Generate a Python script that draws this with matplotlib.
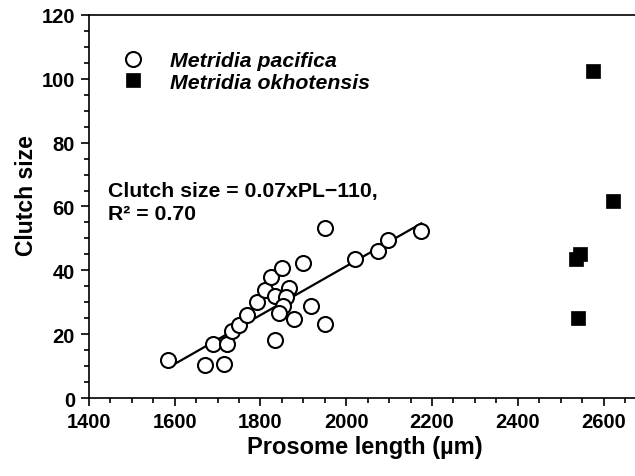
import numpy as np
import matplotlib
matplotlib.use("Agg")
import matplotlib.pyplot as plt
from matplotlib.ticker import MultipleLocator

plt.rcParams['font.family'] = ['Liberation Sans', 'DejaVu Sans']
plt.rcParams['font.weight'] = 'bold'

# Metridia pacifica (open circles)
pac_pl = [1584, 1670, 1716, 1689, 1722, 1733, 1749, 1768, 1792, 1810,
          1825, 1850, 1833, 1867, 1860, 1853, 1843, 1834, 1879, 1898,
          1918, 1950, 1950, 2020, 2074, 2098, 2175]
pac_clutch = [12.0, 10.4, 10.7, 17.0, 17.0, 21.0, 22.9, 26.0, 30.0, 33.7,
              37.8, 40.6, 32.1, 34.4, 31.6, 28.9, 26.6, 18.2, 24.7, 42.4,
              28.8, 23.1, 53.3, 43.4, 46.2, 49.5, 52.3]

# Metridia okhotensis (filled squares)
okh_pl = [2575, 2622, 2546, 2536, 2540]
okh_clutch = [102.3, 61.7, 45.1, 43.5, 25.2]

# regression line for M. pacifica
fit_slope = 0.0766
fit_intercept = -111.9

fig = plt.figure(figsize=(6.35, 4.77), dpi=100)
ax = fig.add_axes([0.140, 0.1635, 0.868, 0.803])

xl = np.array([min(pac_pl) + 12, max(pac_pl)])
ax.plot(xl, fit_slope * xl + fit_intercept, color='black', lw=1.6, zorder=2)

ax.plot(pac_pl, pac_clutch, 'o', ms=10.8, mfc='white', mec='black', mew=1.5,
        zorder=3, label='Metridia pacifica', linestyle='none')
ax.plot(okh_pl, okh_clutch, 's', ms=9.6, mfc='black', mec='black', mew=0.5,
        zorder=3, label='Metridia okhotensis', linestyle='none')

ax.set_xlim(1400, 2685)
ax.set_ylim(0, 120)
ax.xaxis.set_major_locator(MultipleLocator(200))
ax.xaxis.set_minor_locator(MultipleLocator(50))
ax.yaxis.set_major_locator(MultipleLocator(20))
ax.yaxis.set_minor_locator(MultipleLocator(5))
ax.tick_params(which='major', direction='out', length=6, width=1.2, labelsize=14.5, pad=4)
ax.tick_params(which='minor', direction='out', length=3.5, width=1.2)
ax.spines['right'].set_visible(False)
for s in ['left', 'bottom', 'top']:
    ax.spines[s].set_linewidth(1.2)

ax.set_xlabel('Prosome length (µm)', fontsize=17, fontweight='bold', labelpad=3)
ax.set_ylabel('Clutch size', fontsize=16.5, fontweight='bold')
ax.yaxis.set_label_coords(-0.092, 0.53)

leg = ax.legend(loc='upper left', bbox_to_anchor=(0.051, 0.905), frameon=False,
                prop={'size': 15.3, 'weight': 'bold', 'style': 'italic'},
                handletextpad=1.0, labelspacing=0.12, borderaxespad=0.0,
                borderpad=0.0, handlelength=1.5)

ax.text(0.0345, 0.512, 'Clutch size = 0.07xPL\u2212110,\nR\u00b2 = 0.70',
        transform=ax.transAxes, fontsize=15.3, fontweight='bold',
        va='center', ha='left', linespacing=1.3)

fig.savefig('out.png', dpi=100)
